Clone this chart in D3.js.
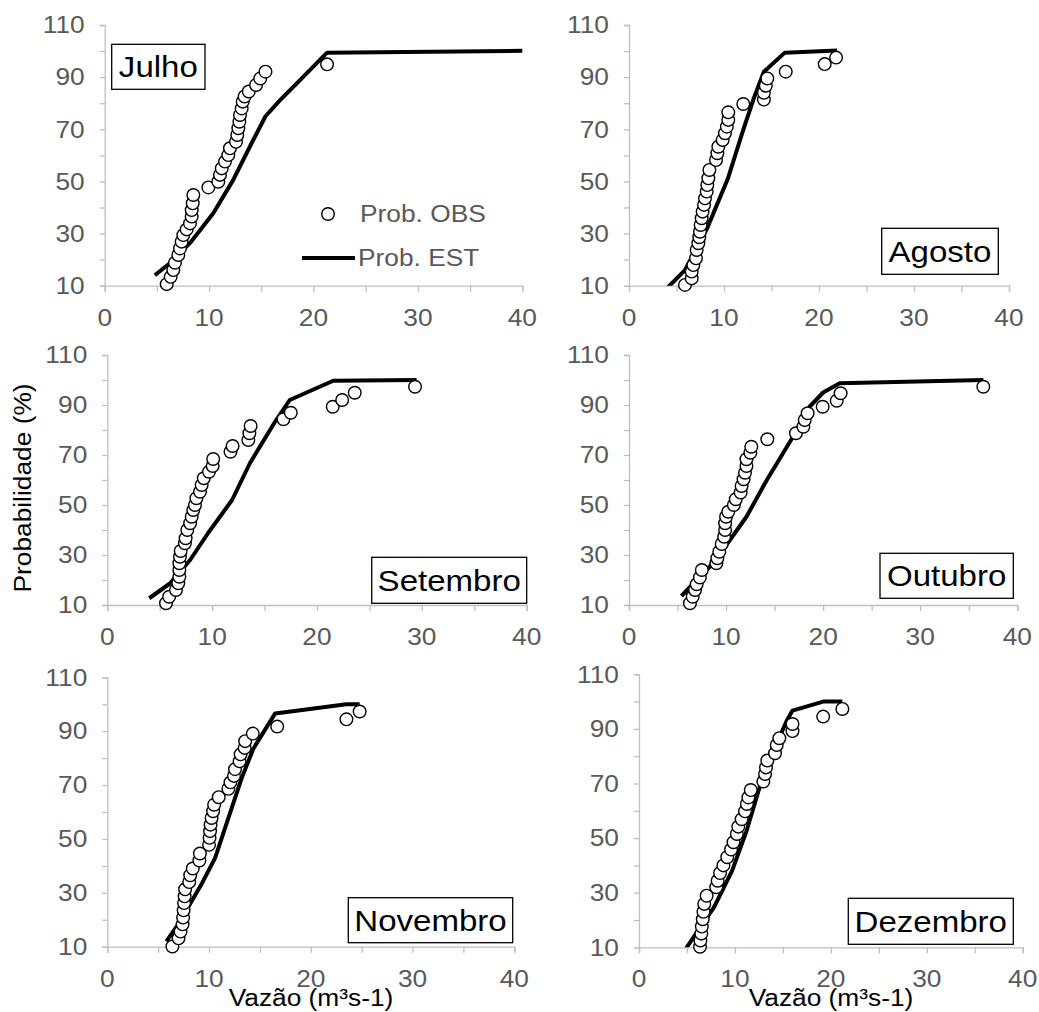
<!DOCTYPE html>
<html>
<head>
<meta charset="utf-8">
<script src="https://cdn.jsdelivr.net/npm/d3@7"></script>
<style>
  html, body { margin: 0; padding: 0; background: #fff; }
  svg { display: block; }
</style>
</head>
<body>
<svg id="chart" width="1039" height="1012"></svg>
<script>
// ---------------- DATA ----------------
const months = ["Julho", "Agosto", "Setembro", "Outubro", "Novembro", "Dezembro"];
const xTickValues = [0, 10, 20, 30, 40];
const yTickLabels = [10, 30, 50, 70, 90, 110];
const legendLabels = ["Prob. OBS", "Prob. EST"];
const yTitle = "Probabilidade (%)";
const xTitle = "Vazão (m³s-1)";

// Julho
const julhoObsQ = [5.94, 6.32, 6.57, 6.73, 7.05, 7.21, 7.37, 7.53, 7.85, 8.17, 8.33, 8.33, 8.43, 8.49, 9.93, 10.88, 11.04, 11.21, 11.52, 11.84, 12.0, 12.58, 12.7, 12.8, 12.9, 12.96, 13.12, 13.22, 13.4, 13.8, 14.5, 14.9, 15.4, 21.3];
const julhoObsP = [10.6, 13.4, 16.0, 18.8, 21.8, 24.3, 26.9, 29.4, 31.6, 33.9, 36.5, 39.0, 41.6, 44.8, 47.7, 49.9, 52.5, 55.0, 57.6, 60.1, 62.7, 65.2, 67.8, 70.4, 72.9, 75.5, 78.0, 80.6, 82.6, 84.5, 87.0, 89.5, 92.1, 94.9];
const julhoEstQ = [4.8, 6.3, 8.2, 10.4, 12.3, 13.9, 15.4, 16.8, 18.4, 21.3, 40];
const julhoEstP = [14.0, 18.8, 26.5, 37.8, 50.5, 63.3, 75.0, 81.2, 87.6, 99.4, 100.1];

// Agosto
const agostoObsQ = [5.89, 6.6, 6.6, 6.77, 7.05, 7.12, 7.3, 7.4, 7.47, 7.54, 7.65, 7.75, 7.9, 8.0, 8.18, 8.24, 8.35, 8.46, 9.16, 9.3, 9.4, 9.86, 10.1, 10.3, 10.45, 10.45, 12.03, 14.2, 14.2, 14.4, 14.56, 16.5, 20.6, 21.8];
const agostoObsP = [10.3, 12.8, 15.4, 17.9, 20.5, 23.7, 26.3, 28.6, 30.7, 33.3, 35.9, 38.4, 41.0, 43.5, 46.1, 48.6, 51.2, 54.4, 58.2, 60.8, 63.3, 65.9, 68.5, 71.0, 73.6, 76.5, 79.7, 81.4, 84.0, 86.7, 89.5, 92.1, 95.0, 97.5];
const agostoEstQ = [4.1, 5.9, 8.2, 10.4, 12.0, 13.1, 14.2, 16.4, 21.9];
const agostoEstP = [9.4, 16.0, 31.8, 51.0, 69.5, 81.5, 92.1, 99.4, 100.2];

// Setembro
const setembroObsQ = [5.6, 5.9, 6.55, 6.77, 6.87, 6.87, 6.87, 6.93, 7.0, 7.4, 7.47, 7.63, 7.9, 8.05, 8.2, 8.36, 8.5, 8.84, 9.0, 9.2, 9.7, 10.05, 10.1, 11.75, 11.95, 13.45, 13.55, 13.67, 16.8, 17.5, 21.5, 22.4, 23.6, 29.35];
const setembroObsP = [10.7, 13.3, 16.0, 18.7, 21.3, 24.0, 26.7, 29.3, 31.6, 34.7, 36.7, 40.0, 42.7, 45.3, 48.0, 50.0, 52.7, 55.3, 58.0, 60.7, 63.3, 65.6, 68.4, 71.3, 73.6, 76.0, 78.7, 81.6, 84.3, 86.9, 89.3, 92.0, 94.9, 97.3];
const setembroEstQ = [4.0, 6.0, 7.9, 9.6, 11.9, 13.6, 16.0, 17.4, 21.55, 29.5];
const setembroEstP = [12.7, 18.7, 28.0, 38.7, 52.0, 66.7, 83.3, 92.0, 99.7, 100.0];

// Outubro
const outubroObsQ = [6.28, 6.56, 6.8, 6.97, 7.3, 7.5, 9.0, 9.1, 9.3, 9.55, 9.8, 9.9, 9.9, 10.0, 10.23, 10.8, 11.0, 11.5, 11.6, 11.8, 11.95, 12.1, 12.1, 12.5, 12.6, 14.25, 17.2, 17.96, 18.1, 18.4, 19.95, 21.4, 21.8, 36.5];
const outubroObsP = [10.7, 13.3, 16.0, 18.3, 21.0, 24.0, 26.7, 28.7, 31.3, 34.4, 37.3, 40.0, 42.7, 45.3, 47.3, 50.0, 52.3, 55.0, 57.6, 60.3, 62.9, 65.6, 68.3, 70.9, 73.3, 76.3, 78.7, 81.3, 84.0, 86.7, 89.3, 91.7, 94.7, 97.3];
const outubroEstQ = [5.4, 8.3, 9.9, 12.1, 14.2, 16.8, 18.6, 20.0, 21.7, 36.5];
const outubroEstP = [13.6, 25.3, 33.3, 45.3, 60.0, 76.7, 89.3, 95.0, 98.7, 100.0];

// Novembro
const novembroObsQ = [6.4, 7.0, 7.2, 7.4, 7.45, 7.5, 7.55, 7.6, 7.65, 8.05, 8.15, 8.4, 9.05, 9.1, 10.0, 10.05, 10.1, 10.15, 10.25, 10.4, 10.5, 10.95, 11.9, 12.1, 12.45, 12.55, 13.0, 13.1, 13.5, 13.55, 14.3, 16.7, 23.5, 24.8];
const novembroObsP = [10.1, 13.1, 15.6, 18.3, 20.8, 23.5, 26.2, 28.7, 31.3, 34.0, 36.5, 39.0, 42.0, 44.6, 47.8, 50.4, 52.9, 55.3, 57.8, 60.3, 62.7, 65.5, 68.6, 71.0, 73.4, 75.9, 78.8, 81.4, 83.8, 86.3, 89.1, 91.7, 94.4, 97.3];
const novembroEstQ = [5.8, 7.0, 8.3, 9.3, 10.6, 11.7, 13.2, 14.35, 16.5, 23.5, 24.8];
const novembroEstP = [12.0, 18.5, 27.0, 33.5, 43.0, 55.5, 72.5, 83.5, 96.6, 100.0, 100.0];

// Dezembro
const dezembroObsQ = [6.36, 6.4, 6.5, 6.55, 6.65, 6.72, 6.8, 7.05, 8.05, 8.2, 8.45, 8.8, 9.2, 9.6, 9.85, 10.2, 10.35, 10.7, 11.05, 11.25, 11.4, 11.65, 12.96, 13.14, 13.24, 13.38, 14.18, 14.36, 14.63, 16.0, 16.0, 19.2, 21.2];
const dezembroObsP = [10.2, 12.5, 15.0, 17.6, 20.3, 23.0, 25.9, 28.9, 32.0, 34.4, 37.2, 40.0, 43.0, 45.8, 48.5, 51.5, 54.2, 56.9, 59.8, 62.5, 64.9, 67.6, 70.7, 73.5, 75.9, 78.4, 81.1, 84.1, 86.6, 89.2, 91.8, 94.5, 97.3];
const dezembroEstQ = [4.8, 6.7, 7.8, 9.7, 11.2, 12.6, 14.4, 15.4, 16.0, 19.2, 21.2];
const dezembroEstP = [9.0, 19.0, 24.5, 38.0, 52.5, 68.9, 85.0, 93.0, 96.7, 100.0, 100.0];

const obsQ = [julhoObsQ, agostoObsQ, setembroObsQ, outubroObsQ, novembroObsQ, dezembroObsQ];
const obsP = [julhoObsP, agostoObsP, setembroObsP, outubroObsP, novembroObsP, dezembroObsP];
const estQ = [julhoEstQ, agostoEstQ, setembroEstQ, outubroEstQ, novembroEstQ, dezembroEstQ];
const estP = [julhoEstP, agostoEstP, setembroEstP, outubroEstP, novembroEstP, dezembroEstP];

// ---------------- LAYOUT ----------------
const layout = [
  { x0: 104.7, x1: 522.3, yb: 285.7, yt: 25,    box: [111.7, 44.3, 93.3, 45] },
  { x0: 629,   x1: 1009,  yb: 285.7, yt: 25,    box: [881.7, 228.3, 116.6, 46] },
  { x0: 107.3, x1: 526.7, yb: 605,   yt: 355,   box: [371.7, 557.3, 155, 46] },
  { x0: 629,   x1: 1017.3,yb: 605,   yt: 355,   box: [880, 553.3, 133.3, 45] },
  { x0: 107.3, x1: 514.3, yb: 946.7, yt: 677.3, box: [348.3, 897.7, 164.4, 45] },
  { x0: 639,   x1: 1022.7,yb: 947.3, yt: 674.3, box: [848.3, 898.3, 165, 46] }
];
const FONT = "'Liberation Sans', Arial, sans-serif";
const SX = 1.12;       // horizontal glyph widening to match reference
const FS = 23.5;
const GRAY_TXT = "#595959";
const AXIS_C = "#bfbfbf";

const svg = d3.select("#chart");

function txt(g, x, y, s, o = {}) {
  return g.append("text")
    .attr("transform", `translate(${x},${y})` + (o.rot ? ` rotate(${o.rot})` : "") + ` scale(${SX},1)`)
    .attr("text-anchor", o.anchor || "start")
    .attr("dy", o.dy || 0)
    .attr("font-family", FONT)
    .attr("font-size", o.size || FS)
    .attr("fill", o.fill || "#000")
    .text(s);
}

months.forEach((m, i) => {
  const L = layout[i];
  const g = svg.append("g");
  const x = d3.scaleLinear().domain([0, 40]).range([L.x0, L.x1]);
  const y = d3.scaleLinear().domain([10, 110]).range([L.yb, L.yt]);

  // axes
  const ay = g.append("g").attr("transform", `translate(${L.x0},0)`)
    .call(d3.axisLeft(y).tickValues(d3.range(10, 111, 10)).tickSize(5).tickFormat(""));
  const ax = g.append("g").attr("transform", `translate(0,${L.yb})`)
    .call(d3.axisBottom(x).tickValues(d3.range(0, 41, 5)).tickSize(6).tickFormat(""));
  [ay, ax].forEach(a => {
    a.selectAll("path,line").attr("stroke", AXIS_C).attr("stroke-width", 1.3);
  });

  // tick labels
  yTickLabels.forEach(v => txt(g, L.x0 - 20, y(v), v, { anchor: "end", dy: "0.35em", fill: GRAY_TXT }));
  xTickValues.forEach(v => txt(g, x(v), L.yb + 40, v, { anchor: "middle", fill: GRAY_TXT }));

  // clip for line
  const cid = "clip" + i;
  svg.append("clipPath").attr("id", cid).append("rect")
    .attr("x", L.x0).attr("y", L.yt).attr("width", L.x1 - L.x0 + 2).attr("height", L.yb - L.yt);

  const estPts = estQ[i].map((q, k) => [q, estP[i][k]]);
  g.append("path")
    .datum(estPts)
    .attr("clip-path", `url(#${cid})`)
    .attr("fill", "none")
    .attr("stroke", "#000")
    .attr("stroke-width", 4)
    .attr("stroke-linejoin", "round")
    .attr("d", d3.line().x(d => x(d[0])).y(d => y(d[1])));

  const obsPts = obsQ[i].map((q, k) => [q, obsP[i][k]]);
  g.selectAll("circle.obs").data(obsPts).join("circle")
    .attr("class", "obs")
    .attr("cx", d => x(d[0])).attr("cy", d => y(d[1]))
    .attr("r", 6.3)
    .attr("fill", "#fff").attr("stroke", "#000").attr("stroke-width", 1.4);

  // month label box
  const [bx, by, bw, bh] = L.box;
  g.append("rect").attr("x", bx).attr("y", by).attr("width", bw).attr("height", bh)
    .attr("fill", "#fff").attr("stroke", "#000").attr("stroke-width", 1.3);
  txt(g, bx + bw / 2, by + bh / 2, m, { anchor: "middle", dy: "0.36em", size: 29.5 });

  // legend in first panel
  if (i === 0) {
    g.append("circle").attr("cx", 328).attr("cy", 214).attr("r", 6.3)
      .attr("fill", "#fff").attr("stroke", "#000").attr("stroke-width", 1.4);
    txt(g, 360, 214, legendLabels[0], { dy: "0.36em", fill: GRAY_TXT });
    g.append("line").attr("x1", 302).attr("x2", 355).attr("y1", 258).attr("y2", 258)
      .attr("stroke", "#000").attr("stroke-width", 4);
    txt(g, 358, 258, legendLabels[1], { dy: "0.36em", fill: GRAY_TXT });
  }
});

// axis titles
txt(svg, 23, 488, yTitle, { anchor: "middle", rot: -90, dy: "0.35em" });
txt(svg, 311, 1006, xTitle, { anchor: "middle" });
txt(svg, 831, 1006, xTitle, { anchor: "middle" });
</script>
</body>
</html>
